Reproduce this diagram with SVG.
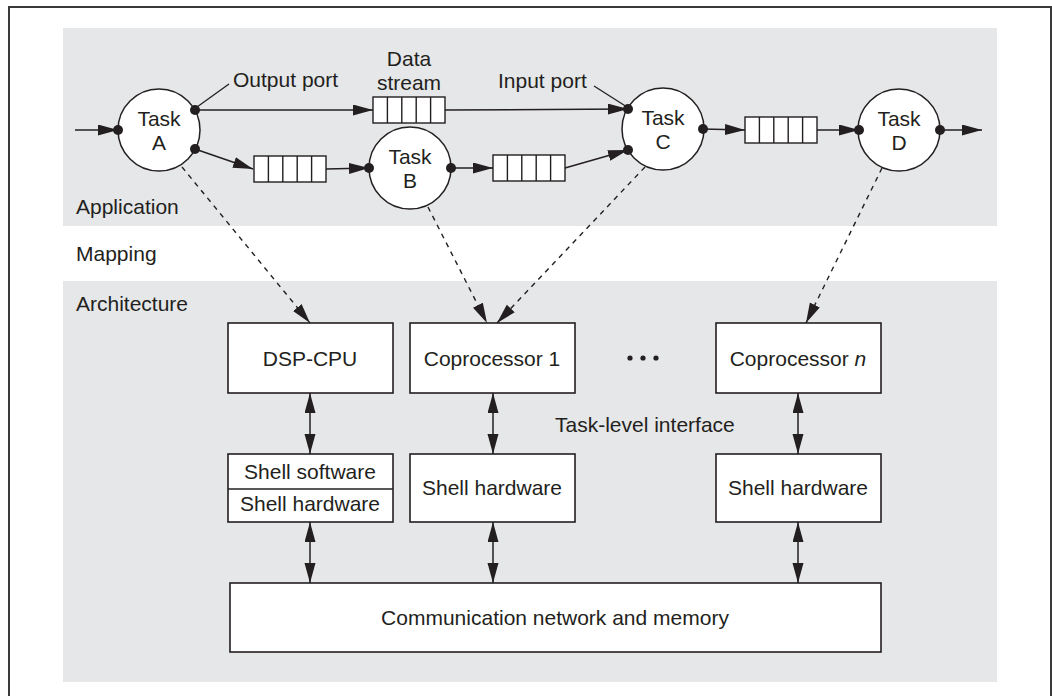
<svg xmlns="http://www.w3.org/2000/svg" width="1052" height="696" viewBox="0 0 1052 696">
  <defs>
    <style>
      .frame { fill: none; stroke: #3a3a3a; stroke-width: 2; }
      .panel { fill: #e6e7e9; stroke: none; }
      .task { fill: #ffffff; stroke: #231f20; stroke-width: 1.5; }
      .box { fill: #ffffff; stroke: #231f20; stroke-width: 1.6; }
      .cell { fill: #ffffff; stroke: #231f20; stroke-width: 1.4; }
      .port { fill: #231f20; }
      .flow { fill: none; stroke: #231f20; stroke-width: 1.5; marker-end: url(#head); }
      .lead { fill: none; stroke: #231f20; stroke-width: 1.3; }
      .map { fill: none; stroke: #231f20; stroke-width: 1.4; stroke-dasharray: 5 5; marker-end: url(#head); }
      .bi { fill: none; stroke: #231f20; stroke-width: 1.5; marker-start: url(#head); marker-end: url(#head); }
      text { font-family: "Liberation Sans", Arial, Helvetica, sans-serif; font-size: 21px; fill: #231f20; }
      .c { text-anchor: middle; }
    </style>
    <marker id="head" markerUnits="userSpaceOnUse" markerWidth="20" markerHeight="12" refX="20" refY="5.5" orient="auto-start-reverse">
      <path d="M0,0 L20,5.5 L0,11 z" fill="#231f20"/>
    </marker>
    <g id="queue">
      <rect class="cell" x="0" y="0" width="72" height="26"/>
      <path d="M14.4,0 V26 M28.8,0 V26 M43.2,0 V26 M57.6,0 V26" stroke="#231f20" stroke-width="1.4"/>
    </g>
  </defs>

  <!-- outer frame and layer panels -->
  <rect class="frame" x="9" y="7" width="1042" height="700"/>
  <rect class="panel" x="63" y="28" width="934" height="198"/>
  <rect class="panel" x="63" y="281" width="934" height="401"/>

  <text x="76" y="214">Application</text>
  <text x="76" y="261">Mapping</text>
  <text x="76" y="311">Architecture</text>

  <!-- connectors -->
  <g id="connectors">
    <!-- application streams -->
    <line class="flow" x1="75" y1="130" x2="118" y2="130"/>
    <line class="flow" x1="195" y1="110" x2="373" y2="110"/>
    <line class="flow" x1="445" y1="110" x2="628" y2="109"/>
    <line class="flow" x1="195" y1="149" x2="253" y2="169"/>
    <line class="flow" x1="326" y1="169" x2="369" y2="168"/>
    <line class="flow" x1="451" y1="168" x2="493" y2="168"/>
    <line class="flow" x1="565" y1="168" x2="628" y2="150"/>
    <line class="flow" x1="703" y1="129" x2="745" y2="130"/>
    <line class="flow" x1="817" y1="130" x2="859" y2="130"/>
    <line class="flow" x1="940" y1="130" x2="982" y2="130"/>
    <!-- port label leaders -->
    <line class="lead" x1="197" y1="107" x2="229" y2="84"/>
    <line class="lead" x1="594" y1="86" x2="627" y2="107"/>
    <!-- mapping -->
    <line class="map" x1="182" y1="167" x2="310" y2="323"/>
    <line class="map" x1="428" y1="207" x2="487" y2="323"/>
    <line class="map" x1="645" y1="167" x2="497" y2="323"/>
    <line class="map" x1="882" y1="168" x2="806" y2="323"/>
    <!-- task-level interface -->
    <line class="bi" x1="310" y1="393" x2="310" y2="454"/>
    <line class="bi" x1="493" y1="393" x2="493" y2="454"/>
    <line class="bi" x1="798" y1="393" x2="798" y2="454"/>
    <!-- shell to network -->
    <line class="bi" x1="310" y1="522" x2="310" y2="583"/>
    <line class="bi" x1="493" y1="522" x2="493" y2="583"/>
    <line class="bi" x1="798" y1="522" x2="798" y2="583"/>
  </g>

  <!-- FIFO buffers -->
  <g id="stream-ac"><use href="#queue" x="373" y="97"/></g>
  <g id="stream-ab"><use href="#queue" x="254" y="156"/></g>
  <g id="stream-bc"><use href="#queue" x="493" y="155"/></g>
  <g id="stream-cd"><use href="#queue" x="745" y="117"/></g>

  <text x="233" y="87">Output port</text>
  <text class="c" x="409" y="66">Data</text>
  <text class="c" x="409" y="90">stream</text>
  <text x="498" y="88">Input port</text>

  <!-- tasks -->
  <g id="task-a">
    <circle class="task" cx="159" cy="130" r="41"/>
    <text class="c" x="159" y="126">Task</text>
    <text class="c" x="159" y="150">A</text>
    <circle class="port" cx="118" cy="130" r="5"/>
    <circle class="port" cx="195" cy="110" r="5"/>
    <circle class="port" cx="195" cy="149" r="5"/>
  </g>
  <g id="task-b">
    <circle class="task" cx="410" cy="168" r="41"/>
    <text class="c" x="410" y="164">Task</text>
    <text class="c" x="410" y="188">B</text>
    <circle class="port" cx="369" cy="168" r="5"/>
    <circle class="port" cx="451" cy="168" r="5"/>
  </g>
  <g id="task-c">
    <circle class="task" cx="663" cy="129" r="41"/>
    <text class="c" x="663" y="125">Task</text>
    <text class="c" x="663" y="149">C</text>
    <circle class="port" cx="628" cy="109" r="5"/>
    <circle class="port" cx="628" cy="150" r="5"/>
    <circle class="port" cx="703" cy="129" r="5"/>
  </g>
  <g id="task-d">
    <circle class="task" cx="899" cy="130" r="41"/>
    <text class="c" x="899" y="126">Task</text>
    <text class="c" x="899" y="150">D</text>
    <circle class="port" cx="859" cy="130" r="5"/>
    <circle class="port" cx="940" cy="130" r="5"/>
  </g>

  <!-- architecture -->
  <g id="dsp-cpu">
    <rect class="box" x="228" y="323" width="165" height="70"/>
    <text class="c" x="310" y="366">DSP-CPU</text>
  </g>
  <g id="coprocessor-1">
    <rect class="box" x="410" y="323" width="165" height="70"/>
    <text class="c" x="492" y="366">Coprocessor 1</text>
  </g>
  <g id="ellipsis">
    <circle class="port" cx="630" cy="358" r="2.6"/>
    <circle class="port" cx="643" cy="358" r="2.6"/>
    <circle class="port" cx="656" cy="358" r="2.6"/>
  </g>
  <g id="coprocessor-n">
    <rect class="box" x="716" y="323" width="165" height="70"/>
    <text class="c" x="798" y="366">Coprocessor <tspan font-style="italic">n</tspan></text>
  </g>
  <text x="555" y="432">Task-level interface</text>

  <g id="shell-dsp">
    <rect class="box" x="228" y="454" width="165" height="68"/>
    <line x1="228" y1="489" x2="393" y2="489" stroke="#231f20" stroke-width="1.4"/>
    <text class="c" x="310" y="479">Shell software</text>
    <text class="c" x="310" y="511">Shell hardware</text>
  </g>
  <g id="shell-1">
    <rect class="box" x="410" y="454" width="165" height="68"/>
    <text class="c" x="492" y="495">Shell hardware</text>
  </g>
  <g id="shell-n">
    <rect class="box" x="716" y="454" width="165" height="68"/>
    <text class="c" x="798" y="495">Shell hardware</text>
  </g>

  <g id="network">
    <rect class="box" x="230" y="583" width="651" height="69"/>
    <text class="c" x="555" y="625">Communication network and memory</text>
  </g>
</svg>
